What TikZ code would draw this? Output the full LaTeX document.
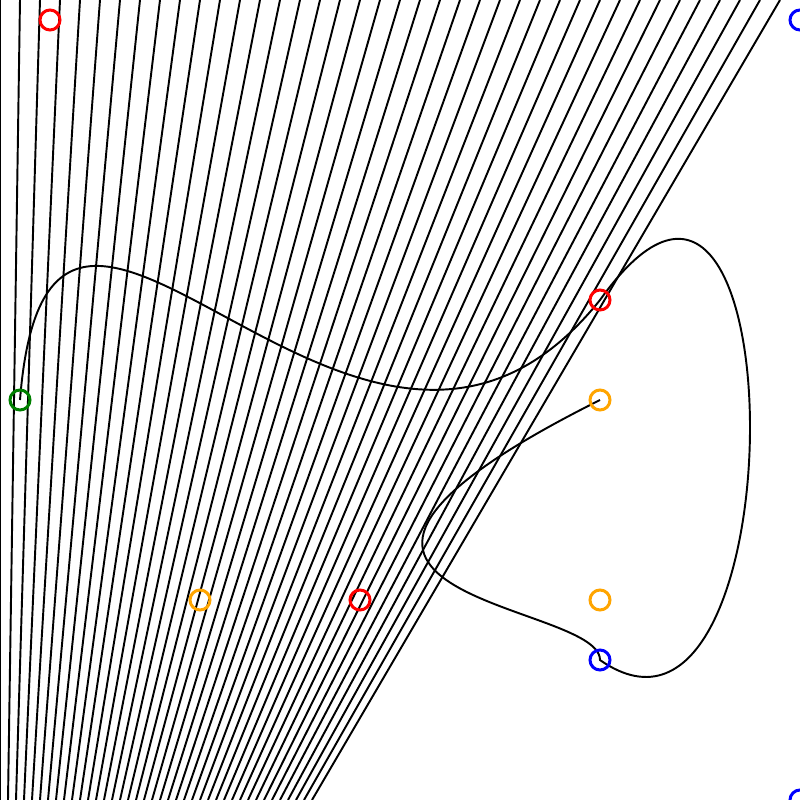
\documentclass[tikz,border=0pt]{standalone}
\definecolor{cred}{RGB}{255,0,0}
\definecolor{cblue}{RGB}{0,0,255}
\definecolor{cgreen}{RGB}{0,128,0}
\definecolor{corange}{RGB}{255,165,0}
\tikzset{
  fanline/.style={line width=0.55pt,black},
  curveline/.style={line width=0.55pt,black},
  ctrl/.style={line width=0.85pt,draw=#1},
}
\begin{document}
\begin{tikzpicture}[x=0.01cm,y=-0.01cm]
\useasboundingbox (0,0) rectangle (800,800);
\clip (0,0) rectangle (800,800);
\fill[white] (0,0) rectangle (800,800);
% fan of lines
\foreach \i in {0,...,39}{
  \draw[fanline] (20*\i,0) -- (8*\i,800);
}
% control points
\coordinate (s) at (20,400);
\coordinate (a1) at (50,20);
\coordinate (a2) at (360,600);
\coordinate (p1) at (600,300);
\coordinate (b1) at (800,20);
\coordinate (b2) at (800,800);
\coordinate (p2) at (600,660);
\coordinate (c1) at (600,600);
\coordinate (c2) at (200,600);
\coordinate (p3) at (600,400);
% curve
\draw[curveline] (s) .. controls (a1) and (a2) .. (p1)
                     .. controls (b1) and (b2) .. (p2)
                     .. controls (c1) and (c2) .. (p3);
% markers
\draw[ctrl=cgreen] (s) circle[radius=10];
\draw[ctrl=cred] (a1) circle[radius=10];
\draw[ctrl=cred] (a2) circle[radius=10];
\draw[ctrl=cred] (p1) circle[radius=10];
\draw[ctrl=cblue] (b1) circle[radius=10];
\draw[ctrl=cblue] (b2) circle[radius=10];
\draw[ctrl=cblue] (p2) circle[radius=10];
\draw[ctrl=corange] (c1) circle[radius=10];
\draw[ctrl=corange] (c2) circle[radius=10];
\draw[ctrl=corange] (p3) circle[radius=10];
\end{tikzpicture}
\end{document}
